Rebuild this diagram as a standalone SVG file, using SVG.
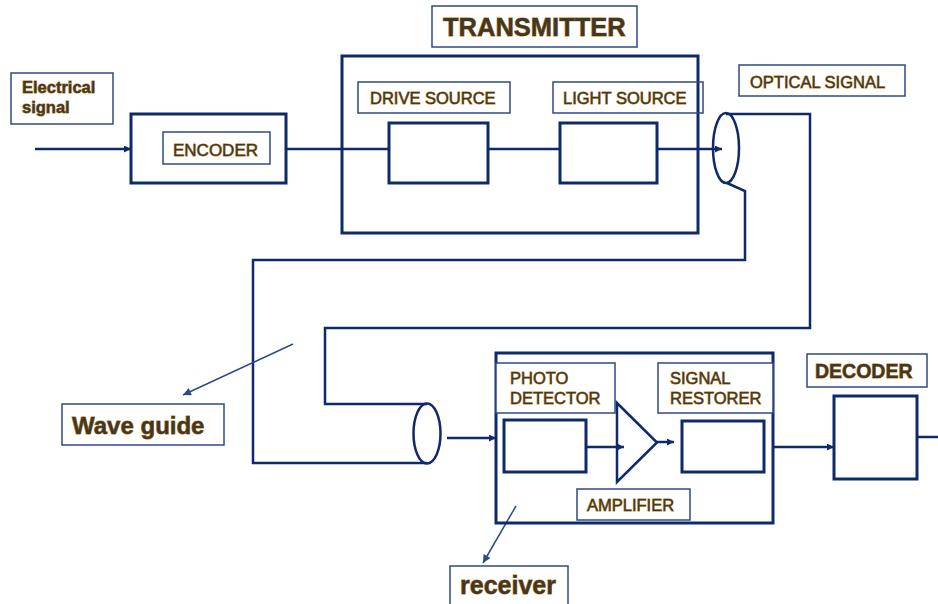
<svg xmlns="http://www.w3.org/2000/svg" width="938" height="604" viewBox="0 0 938 604">
<style>
.lbl{fill:#fff;stroke:#2f4a86;stroke-width:1.5}
.blk{fill:#fff;stroke:#0f2a68;stroke-width:3}
.wire{fill:none;stroke:#0f2a68;stroke-width:2.5}
.ptr{fill:none;stroke:#2a4a8a;stroke-width:1.5}
text{font-family:"Liberation Sans",Arial,sans-serif;fill:#45371f;stroke:#b08030;stroke-width:0.9;paint-order:stroke}
.t{font-size:16.5px}
.b{font-weight:bold}
</style>
<defs>
<marker id="ah" viewBox="0 0 10 10" refX="10" refY="5" markerWidth="9" markerHeight="7" markerUnits="userSpaceOnUse" orient="auto">
<path d="M0,0 L10,5 L0,10 Z" fill="#0f2a68"/>
</marker>
<marker id="ap" viewBox="0 0 10 10" refX="10" refY="5" markerWidth="10" markerHeight="8" markerUnits="userSpaceOnUse" orient="auto">
<path d="M0,0 L10,5 L0,10 Z" fill="#2a4a8a"/>
</marker>
</defs>
<rect width="938" height="604" fill="#fff"/>

<g id="connectors">
<line class="wire" x1="35" y1="149" x2="131" y2="149" marker-end="url(#ah)"/>
<line class="wire" x1="286" y1="149" x2="389" y2="149"/>
<line class="wire" x1="488" y1="149" x2="560" y2="149"/>
<line class="wire" x1="657" y1="149" x2="722" y2="149" marker-end="url(#ah)"/>
<path class="wire" d="M726,114 H810 V328 H325 V404 H427"/>
<path class="wire" d="M727,183 L745,191 V260 H253 V463 H427"/>
<line class="wire" x1="447" y1="438" x2="496" y2="438" marker-end="url(#ah)"/>
<line class="wire" x1="586" y1="447" x2="624" y2="447" marker-end="url(#ah)"/>
<line class="wire" x1="657" y1="442" x2="674" y2="442" marker-end="url(#ah)"/>
<line class="wire" x1="773" y1="447" x2="834" y2="447" marker-end="url(#ah)"/>
<line class="wire" x1="917" y1="437" x2="938" y2="437"/>
<line class="ptr" x1="293" y1="344" x2="183" y2="395" marker-end="url(#ap)"/>
<line class="ptr" x1="516" y1="506" x2="483" y2="563" marker-end="url(#ap)"/>
</g>

<g id="electrical-signal">
<rect class="lbl" x="11" y="73" width="102" height="51"/>
<text class="t b" x="22" y="93">Electrical</text>
<text class="t b" x="22" y="113">signal</text>
</g>

<g id="encoder">
<rect class="blk" x="131" y="114" width="155" height="69"/>
<rect class="lbl" x="163" y="132" width="107" height="32"/>
<text x="173" y="156" font-size="17">ENCODER</text>
</g>

<g id="transmitter">
<rect class="lbl" x="432" y="6" width="205" height="41"/>
<text class="b" x="443" y="36" font-size="25.5">TRANSMITTER</text>
<rect class="blk" x="342" y="56" width="356" height="177" style="fill:none"/>
</g>

<g id="drive-source">
<rect class="lbl" x="358" y="82" width="152" height="31"/>
<text class="t" x="370" y="104">DRIVE SOURCE</text>
<rect class="blk" x="389" y="123" width="99" height="60"/>
</g>

<g id="light-source">
<rect class="lbl" x="553" y="82" width="150" height="31" style="fill:none"/>
<text class="t" x="563" y="104">LIGHT SOURCE</text>
<rect class="blk" x="560" y="123" width="97" height="60"/>
</g>

<g id="optical-signal">
<rect class="lbl" x="739" y="65" width="166" height="31"/>
<text class="t" x="750" y="88">OPTICAL SIGNAL</text>
<ellipse class="wire" cx="726" cy="148" rx="13" ry="35"/>
</g>

<g id="wave-guide">
<ellipse class="wire" cx="427" cy="433.5" rx="13.5" ry="30" fill="#fff"/>
<rect class="lbl" x="62" y="404" width="162" height="41"/>
<text class="b" x="72" y="434" font-size="24">Wave guide</text>
</g>

<g id="receiver">
<rect class="blk" x="496" y="353" width="277" height="170" style="fill:none"/>
<rect class="lbl" x="450" y="566" width="118" height="42"/>
<text class="b" x="460" y="594" font-size="25">receiver</text>
</g>

<g id="photo-detector">
<rect class="lbl" x="496" y="363" width="119" height="50"/>
<text class="t" x="510" y="384">PHOTO</text>
<text class="t" x="510" y="404">DETECTOR</text>
<rect class="blk" x="504" y="420" width="82" height="52"/>
</g>

<g id="amplifier">
<path class="wire" d="M617,403 L657,442.5 L617,482 Z"/>
<rect class="lbl" x="577" y="489" width="113" height="31"/>
<text class="t" x="587" y="511">AMPLIFIER</text>
</g>

<g id="signal-restorer">
<rect class="lbl" x="658" y="363" width="115" height="50"/>
<text class="t" x="670" y="384">SIGNAL</text>
<text class="t" x="670" y="404">RESTORER</text>
<rect class="blk" x="682" y="421" width="82" height="51"/>
</g>

<g id="decoder">
<rect class="lbl" x="807" y="354" width="120" height="33"/>
<text class="b" x="815" y="378" font-size="19.5">DECODER</text>
<rect class="blk" x="834" y="396" width="83" height="83"/>
</g>
</svg>
